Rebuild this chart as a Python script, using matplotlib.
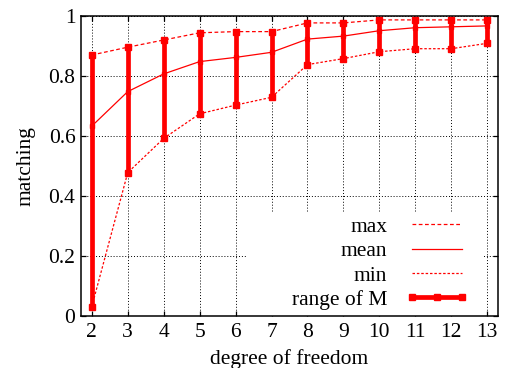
import numpy as np
import matplotlib.pyplot as plt
from matplotlib.lines import Line2D
from matplotlib.patches import Rectangle

# degree of freedom vs. matching
dof = [2, 3, 4, 5, 6, 7, 8, 9, 10, 11, 12, 13]
match_max = [0.870, 0.896, 0.920, 0.944, 0.948, 0.948, 0.977, 0.977, 0.987, 0.987, 0.987, 0.987]
match_mean = [0.633, 0.748, 0.807, 0.848, 0.862, 0.879, 0.923, 0.933, 0.951, 0.961, 0.964, 0.967]
match_min = [0.031, 0.478, 0.592, 0.674, 0.703, 0.729, 0.838, 0.858, 0.881, 0.891, 0.891, 0.909]

ytick_vals = [0, 0.2, 0.4, 0.6, 0.8, 1]
ytick_labels = ['0', '0.2', '0.4', '0.6', '0.8', '1']

RED = '#ff0000'

plt.rcParams['font.family'] = ['Liberation Serif', 'DejaVu Serif']
plt.rcParams['font.size'] = 15.5

fig = plt.figure(figsize=(5.05, 3.68), dpi=100)
ax = fig.add_axes([0.1604, 0.1413, 0.8257, 0.8152])

ax.plot(dof, match_max, color=RED, lw=0.9, linestyle=(0, (3, 2)), label='max')
ax.plot(dof, match_mean, color=RED, lw=0.9, label='mean')
ax.plot(dof, match_min, color=RED, lw=0.9, linestyle=(0, (2, 1.5)), label='min')

ax.vlines(dof, match_min, match_max, color=RED, lw=3.4, zorder=3)
ax.plot(dof, match_max, 's', color=RED, ms=3.8, zorder=4)
ax.plot(dof, match_min, 's', color=RED, ms=3.8, zorder=4)
ax.plot(dof, match_mean, 's', color=RED, ms=2.5, zorder=4)

ax.set_xlim(1.7, 13.3)
ax.set_ylim(0, 1)
ax.set_xticks(dof)
ax.set_yticks(ytick_vals)
ax.set_yticklabels(ytick_labels)

ax.grid(True, color='black', linestyle=(0, (1, 2)), lw=0.7)
ax.set_axisbelow(True)
ax.tick_params(direction='in', length=3.5, width=0.9, top=True, right=True)
ax.tick_params(axis='x', pad=5)
ax.tick_params(axis='y', pad=4)
for sp in ax.spines.values():
    sp.set_linewidth(1.1)

ax.set_xlabel('degree of freedom', labelpad=5)
ax.set_ylabel('matching', labelpad=9)

# white key area hiding the grid, like gnuplot's opaque key
ax.add_patch(Rectangle((0.396, 0), 0.570, 0.343, transform=ax.transAxes,
                       facecolor='white', edgecolor='none', zorder=1))

handles = ax.get_lines()[:3]
range_proxy = Line2D([], [], color=RED, lw=3.4, marker='s', ms=3.8)
leg = ax.legend(handles + [range_proxy], ['max', 'mean', 'min', 'range of M'],
                loc='lower right', bbox_to_anchor=((468 - 81) / 417, 0.02),
                markerfirst=False, numpoints=3, frameon=False,
                borderaxespad=0, borderpad=0, labelspacing=0.2,
                handlelength=2.9, handletextpad=0.85)

fig.savefig('out.png', dpi=100)
